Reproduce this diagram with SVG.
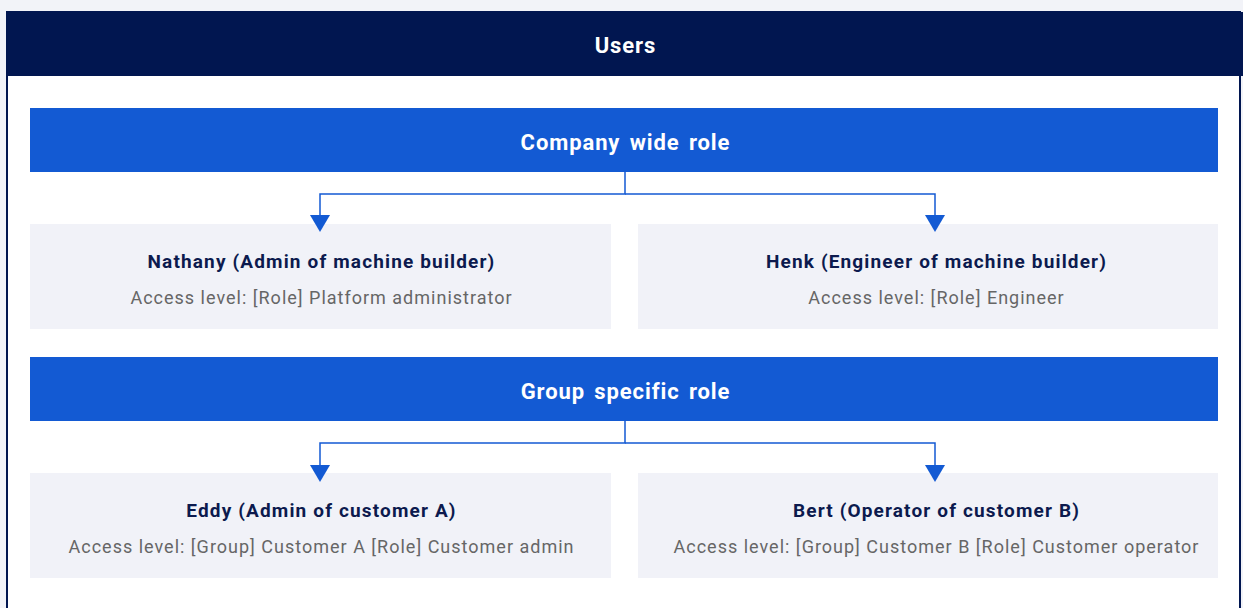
<svg xmlns="http://www.w3.org/2000/svg" width="1243" height="608" viewBox="0 0 1243 608">
<defs>
<style>
.bar{fill:#135ad3}
.box{fill:#f1f2f8}
.hdr{font-family:Roboto,"Liberation Sans",sans-serif;font-weight:700;font-size:22px;letter-spacing:0.9px;word-spacing:3px;fill:#ffffff;text-anchor:middle}
.ttl{font-family:Roboto,"Liberation Sans",sans-serif;font-weight:700;font-size:19px;letter-spacing:1.15px;fill:#0c1a4e;text-anchor:middle}
.sub{font-family:Roboto,"Liberation Sans",sans-serif;font-size:18px;letter-spacing:1px;fill:#666666;text-anchor:middle}
.con{fill:none;stroke:#135ad3;stroke-width:1.5}
.ah{fill:#135ad3}
</style>
</defs>
<rect x="0" y="0" width="1243" height="608" fill="#f2f3f8"/>
<g id="frame">
<rect x="7" y="12" width="1233" height="610" fill="#ffffff" stroke="#011650" stroke-width="2"/>
<rect x="6" y="12" width="1237" height="64" fill="#011650"/>
<text class="hdr" x="625.5" y="52.5">Users</text>
</g>
<g id="company-wide-role">
<rect class="bar" x="30" y="108" width="1188" height="64"/>
<text class="hdr" x="625.5" y="149.5">Company wide role</text>
</g>
<g id="nathany">
<rect class="box" x="30" y="224" width="581" height="105"/>
<text class="ttl" x="321.5" y="268">Nathany (Admin of machine builder)</text>
<text class="sub" x="321.5" y="304">Access level: [Role] Platform administrator</text>
</g>
<g id="henk">
<rect class="box" x="638" y="224" width="580" height="105"/>
<text class="ttl" x="936.5" y="268">Henk (Engineer of machine builder)</text>
<text class="sub" x="936.5" y="304">Access level: [Role] Engineer</text>
</g>
<g id="group-specific-role">
<rect class="bar" x="30" y="357" width="1188" height="64"/>
<text class="hdr" x="625.5" y="398.5">Group specific role</text>
</g>
<g id="eddy">
<rect class="box" x="30" y="473" width="581" height="105"/>
<text class="ttl" x="321.5" y="517">Eddy (Admin of customer A)</text>
<text class="sub" x="321.5" y="553">Access level: [Group] Customer A [Role] Customer admin</text>
</g>
<g id="bert">
<rect class="box" x="638" y="473" width="580" height="105"/>
<text class="ttl" x="936.5" y="517">Bert (Operator of customer B)</text>
<text class="sub" x="936.5" y="553">Access level: [Group] Customer B [Role] Customer operator</text>
</g>
<g id="connectors">
<path class="con" d="M625,172 V194 H320 V216"/>
<path class="con" d="M625,194 H935 V216"/>
<path class="ah" d="M310,215 H330 L320,232 Z"/>
<path class="ah" d="M925,215 H945 L935,232 Z"/>
<path class="con" d="M625,421 V443 H320 V466"/>
<path class="con" d="M625,443 H935 V466"/>
<path class="ah" d="M310,465 H330 L320,482 Z"/>
<path class="ah" d="M925,465 H945 L935,482 Z"/>
</g>
</svg>
